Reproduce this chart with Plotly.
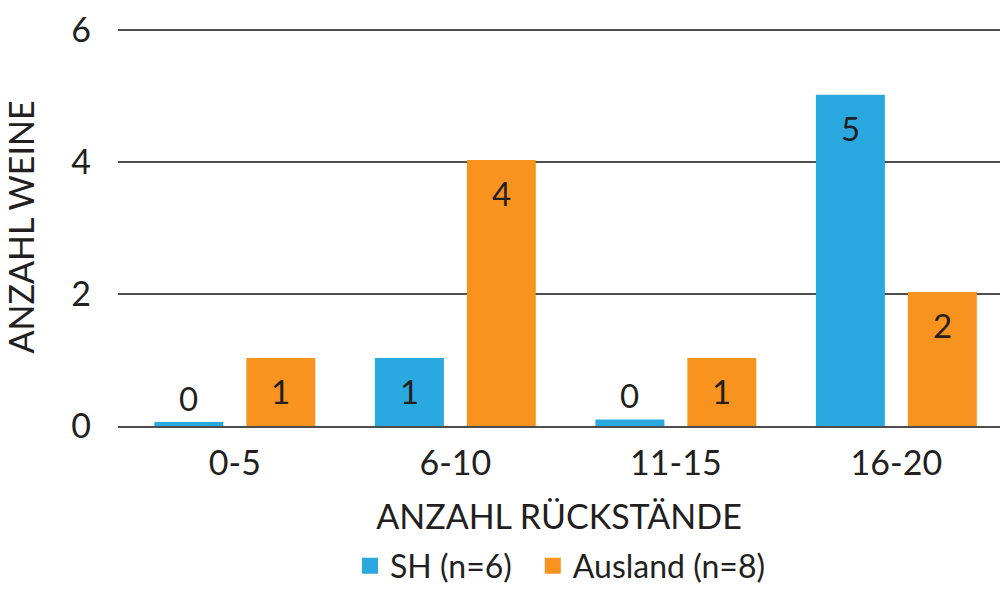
import plotly.graph_objects as go

categories = ["0-5", "6-10", "11-15", "16-20"]
sh_values = [0, 1, 0, 5]
ausland_values = [1, 4, 1, 2]
# visible stub heights used in the original for zero counts
sh_heights = [0.06, 1.03, 0.1, 5.02]
ausland_heights = [1.03, 4.03, 1.03, 2.03]
y_ticks = [0, 2, 4, 6]
series_names = ["SH (n=6)", "Ausland (n=8)"]

BLUE = "#29a9e0"
ORANGE = "#f7931e"
TEXT = "#231f20"
GRID = "#4d4d4d"
FONT = "Lato"

fig = go.Figure()
fig.add_trace(go.Bar(x=categories, y=sh_heights, marker_color=BLUE,
                     marker_line_width=0, showlegend=False, hoverinfo="skip"))
fig.add_trace(go.Bar(x=categories, y=ausland_heights, marker_color=ORANGE,
                     marker_line_width=0, showlegend=False, hoverinfo="skip"))

# legend entries (a trailing en space widens the gap between the two entries)
fig.add_trace(go.Scatter(x=[None], y=[None], mode="markers", name=series_names[0] + "\u2002",
                         marker=dict(symbol="square", size=24, color=BLUE)))
fig.add_trace(go.Scatter(x=[None], y=[None], mode="markers", name=series_names[1],
                         marker=dict(symbol="square", size=24, color=ORANGE)))

BARGAP = 0.166
slot = (1 - BARGAP) / 4
annotations = []
for i, cat in enumerate(categories):
    for off, val, h in ((-slot, sh_values[i], sh_heights[i]), (slot, ausland_values[i], ausland_heights[i])):
        annotations.append(dict(
            x=i + off, y=h, xref="x", yref="y", text=str(val), showarrow=False,
            font=dict(family=FONT, size=33, color=TEXT),
            yanchor="middle", yshift=(24 if val == 0 else -33)))

fig.update_layout(
    width=1000, height=589,
    margin=dict(l=118, r=0, t=28, b=163, autoexpand=False),
    paper_bgcolor="white", plot_bgcolor="white",
    barmode="group", bargap=BARGAP, bargroupgap=0.25,
    font=dict(family=FONT, color=TEXT),
    annotations=annotations,
    xaxis=dict(
        type="category", range=[-0.53, 3.47], automargin=False,
        tickfont=dict(size=34, family=FONT, color=TEXT),
        ticks="", ticklabelstandoff=6,
        showgrid=False, zeroline=False,
        showline=True, linecolor=GRID, linewidth=2, layer="above traces",
        title=dict(text="ANZAHL RÜCKSTÄNDE", font=dict(size=34, family=FONT, color=TEXT), standoff=24),
    ),
    yaxis=dict(
        range=[0, 6.03], tickvals=y_ticks, ticktext=[str(t) for t in y_ticks],
        automargin=False,
        tickfont=dict(size=34, family=FONT, color=TEXT),
        ticks="", ticklabelstandoff=26,
        showgrid=True, gridcolor=GRID, gridwidth=2, zeroline=False,
        title=dict(text="ANZAHL WEINE", font=dict(size=34, family=FONT, color=TEXT), standoff=30),
    ),
    legend=dict(orientation="h", x=0.56, xanchor="center", xref="container",
                y=1 - 566 / 589, yanchor="middle", yref="container",
                font=dict(size=32, family=FONT, color=TEXT), itemsizing="trace",
                itemwidth=30, tracegroupgap=0, bgcolor="rgba(0,0,0,0)"),
)

fig.write_html("out.html")
